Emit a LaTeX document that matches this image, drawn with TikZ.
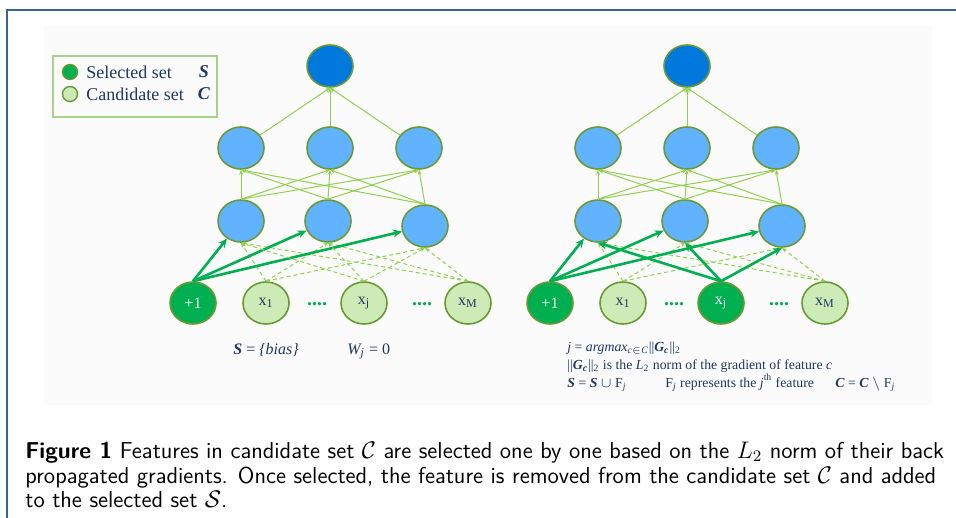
\documentclass[tikz,border=0pt]{standalone}
\usepackage{fontspec}
\newfontfamily\tnr{Liberation Serif}
\usetikzlibrary{shapes.geometric,arrows.meta}

\definecolor{navy}{HTML}{1F3864}
\definecolor{nodeblue}{HTML}{62B3FF}
\definecolor{topblue}{HTML}{0078DC}
\definecolor{rim}{HTML}{6A9A35}
\definecolor{wirecol}{HTML}{92D050}
\definecolor{selgreen}{HTML}{00B050}
\definecolor{candgreen}{HTML}{CCEBB6}
\definecolor{legendrim}{HTML}{A9D18E}
\definecolor{frameblue}{HTML}{3A6395}

\tikzset{
  neuron/.style={ellipse, draw=rim, line width=0.8pt, minimum width=23pt,
    minimum height=21pt, inner sep=0pt, fill=nodeblue, font=\tnr\fontsize{8}{9}\selectfont},
  outneuron/.style={neuron, fill=topblue},
  selected/.style={neuron, fill=selgreen, text=white},
  candidate/.style={neuron, fill=candgreen, text=navy},
  wire/.style={draw=wirecol, line width=0.5pt, -{Stealth[length=2.5pt,width=2pt]}},
  dashwire/.style={wire, dash pattern=on 2pt off 1.5pt},
  pick/.style={draw=selgreen, line width=1.3pt, -{Stealth[length=4.5pt,width=4pt]}},
  note/.style={text=navy, inner sep=0pt, font=\tnr\fontsize{8}{9}\selectfont},
  smallnote/.style={note, font=\tnr\fontsize{6.9}{8}\selectfont},
  dotrow/.style={text=selgreen, inner sep=0pt, font=\tnr\bfseries\fontsize{10}{10}\selectfont},
  legdot/.style={circle, draw=rim, line width=0.7pt, minimum size=7.5pt, inner sep=0pt},
  capline/.style={anchor=base west, inner sep=0pt, font=\sffamily\fontsize{11.5}{12}\selectfont}
}

\begin{document}
\begin{tikzpicture}[x=0.5pt,y=-0.5pt]
\useasboundingbox (0,0) rectangle (956,518);
\draw[frameblue, line width=0.8pt] (7,518) -- (7,10) -- (956,10);
\fill[black!1.5] (44,26) rectangle (932,405);

% legend
\draw[legendrim, line width=0.6pt] (53,56) rectangle (217,117);
\node[legdot, fill=selgreen] (legsel) at (70,72) {};
\node[legdot, fill=candgreen] (legcand) at (70,94) {};
\node[note, anchor=west, font=\tnr\fontsize{9}{10}\selectfont] (legseltext) at (86,72) {Selected set};
\node[note, anchor=west, font=\tnr\fontsize{9}{10}\selectfont] (legcandtext) at (86,94) {Candidate set};
\node[note, font=\tnr\fontsize{9}{10}\selectfont] (legS) at (204,72) {\textbf{\textit{S}}};
\node[note, font=\tnr\fontsize{9}{10}\selectfont] (legC) at (204,94) {\textbf{\textit{C}}};

% the two networks
\foreach \n/\dx in {a/0,b/357} {
  \node[outneuron] (\n-top) at (330+\dx,66) {};
  \node[neuron] (\n-u1) at (241+\dx,148) {};
  \node[neuron] (\n-u2) at (330+\dx,148) {};
  \node[neuron] (\n-u3) at (419+\dx,148) {};
  \node[neuron] (\n-h1) at (241+\dx,221) {};
  \node[neuron] (\n-h2) at (328+\dx,221) {};
  \node[neuron] (\n-h3) at (425+\dx,226) {};
  \node[selected] (\n-bias) at (193+\dx,303) {+1};
  \node[candidate] (\n-x1) at (266+\dx,303) {x\textsubscript{1}};
  \node[candidate] (\n-xM) at (468+\dx,303) {x\textsubscript{M}};
  \node[dotrow] (\n-dots1) at (317+\dx,304) {....};
  \node[dotrow] (\n-dots2) at (422+\dx,304) {....};
}
\node[candidate] (a-xj) at (364,303) {x\textsubscript{j}};
\node[selected] (b-xj) at (721,303) {x\textsubscript{j}};

\foreach \n in {a,b} {
  \foreach \i in {1,2,3} {
    \draw[wire] (\n-u\i) -- (\n-top.south);
    \foreach \k in {1,2,3}
      \draw[wire] (\n-h\k.north) -- (\n-u\i.south);
    \draw[dashwire] (\n-x1.north) -- (\n-h\i.south);
    \draw[dashwire] (\n-xM.north) -- (\n-h\i.south);
    \draw[pick] (\n-bias.north) -- (\n-h\i);
  }
}
\foreach \i in {1,2,3} {
  \draw[dashwire] (a-xj.north) -- (a-h\i.south);
  \draw[pick] (b-xj.north) -- (b-h\i.south);
}

% notes under the networks
\node[note, anchor=base west] (abias) at (233,354) {\textbf{\textit{S}} = \textit{\{bias\}}};
\node[note, anchor=base west] (aweight) at (347,354) {\textit{W\textsubscript{j}} = 0};
\node[smallnote, anchor=base west] (bpick) at (567,351)
  {\textit{j} = \textit{argmax\textsubscript{c$\in$C}}||\textbf{\textit{G\textsubscript{c}}}||\textsubscript{2}};
\node[smallnote, anchor=base west] (bnorm) at (567,369)
  {||\textbf{\textit{G\textsubscript{c}}}||\textsubscript{2} is the \textit{L}\textsubscript{2} norm of the gradient of feature \textit{c}};
\node[smallnote, anchor=base west] (bupd) at (567,387)
  {\textbf{\textit{S}} = \textbf{\textit{S}} $\cup$ F\textsubscript{\textit{j}}};
\node[smallnote, anchor=base west] (bfeat) at (665,387)
  {F\textsubscript{\textit{j}} represents the \textit{j}\textsuperscript{th} feature};
\node[smallnote, anchor=base west] (brem) at (835,387)
  {\textbf{\textit{C}} = \textbf{\textit{C}} $\setminus$ F\textsubscript{\textit{j}}};

% caption
\node[capline] (caption1) at (25,458)
  {\textbf{Figure 1} Features in candidate set $\mathcal{C}$ are selected one by one based on the $L_2$ norm of their back};
\node[capline] (caption2) at (25,483)
  {propagated gradients. Once selected, the feature is removed from the candidate set $\mathcal{C}$ and added};
\node[capline] (caption3) at (25,507)
  {to the selected set $\mathcal{S}$.};
\end{tikzpicture}
\end{document}
